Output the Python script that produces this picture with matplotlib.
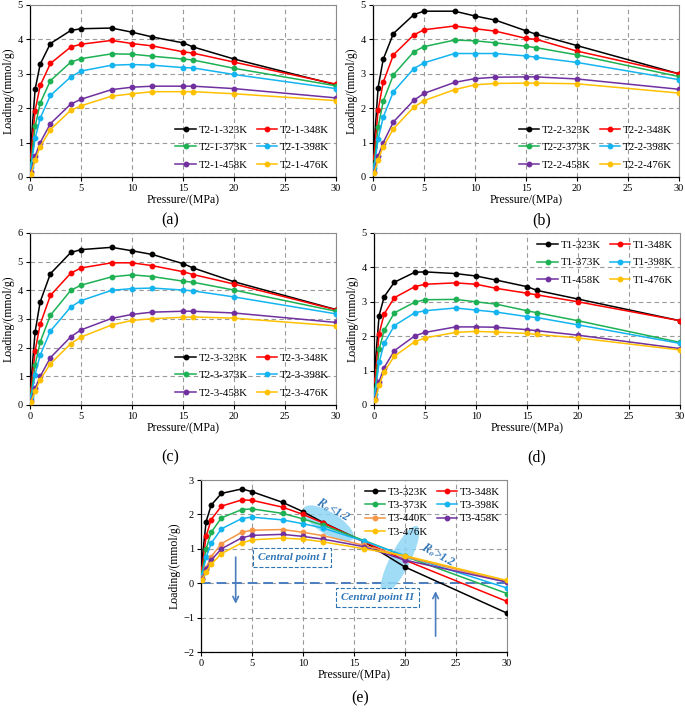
import numpy as np
import matplotlib
matplotlib.use("Agg")
import matplotlib.pyplot as plt
from matplotlib.patches import Ellipse
from matplotlib.transforms import ScaledTranslation

plt.rcParams['font.family'] = ['Liberation Serif', 'DejaVu Serif']
plt.rcParams['mathtext.fontset'] = 'stix'

# pressures (MPa)
pressure = [0.1, 0.5, 1, 2, 4, 5, 8, 10, 12, 15, 16, 20, 30]
pressure_e = [0.1, 0.5, 1, 2, 4, 5, 8, 10, 12, 16, 20, 30]

temps6 = ['323K', '348K', '373K', '398K', '458K', '476K']
temps7 = ['323K', '348K', '373K', '398K', '440K', '458K', '476K']

# (a) T2-1
t21 = [
    [0.93, 2.55, 3.28, 3.88, 4.26, 4.31, 4.33, 4.21, 4.07, 3.90, 3.78, 3.43, 2.68],
    [0.62, 1.93, 2.66, 3.30, 3.78, 3.86, 3.97, 3.88, 3.81, 3.64, 3.60, 3.34, 2.70],
    [0.38, 1.47, 2.15, 2.80, 3.34, 3.44, 3.58, 3.57, 3.51, 3.43, 3.40, 3.16, 2.65],
    [0.30, 1.12, 1.71, 2.37, 2.91, 3.08, 3.25, 3.27, 3.25, 3.18, 3.17, 2.98, 2.57],
    [0.15, 0.60, 1.00, 1.55, 2.12, 2.26, 2.54, 2.61, 2.64, 2.64, 2.64, 2.57, 2.30],
    [0.10, 0.50, 0.88, 1.38, 1.94, 2.07, 2.35, 2.42, 2.48, 2.48, 2.48, 2.42, 2.22],
]
# (b) T2-2
t22 = [
    [0.88, 2.60, 3.42, 4.17, 4.72, 4.82, 4.82, 4.68, 4.56, 4.25, 4.15, 3.82, 3.00],
    [0.58, 1.95, 2.75, 3.55, 4.13, 4.28, 4.39, 4.31, 4.24, 4.03, 4.00, 3.66, 3.00],
    [0.35, 1.45, 2.20, 2.97, 3.64, 3.79, 3.98, 3.96, 3.90, 3.80, 3.76, 3.55, 2.92],
    [0.25, 1.10, 1.74, 2.48, 3.15, 3.32, 3.59, 3.59, 3.59, 3.52, 3.48, 3.33, 2.83],
    [0.15, 0.60, 1.00, 1.60, 2.23, 2.43, 2.75, 2.86, 2.90, 2.91, 2.91, 2.85, 2.55],
    [0.12, 0.50, 0.88, 1.40, 2.03, 2.22, 2.54, 2.68, 2.72, 2.73, 2.73, 2.71, 2.44],
]
# (c) T2-3
t23 = [
    [0.80, 2.55, 3.60, 4.58, 5.32, 5.42, 5.50, 5.38, 5.25, 4.93, 4.78, 4.30, 3.33],
    [0.52, 1.88, 2.82, 3.82, 4.60, 4.78, 4.96, 4.96, 4.86, 4.65, 4.55, 4.22, 3.32],
    [0.35, 1.40, 2.20, 3.13, 4.00, 4.18, 4.47, 4.54, 4.48, 4.32, 4.28, 4.01, 3.27],
    [0.25, 1.06, 1.74, 2.58, 3.42, 3.64, 4.00, 4.06, 4.08, 4.01, 3.98, 3.77, 3.18],
    [0.15, 0.58, 1.00, 1.65, 2.38, 2.62, 3.02, 3.16, 3.24, 3.27, 3.27, 3.21, 2.88],
    [0.12, 0.48, 0.88, 1.44, 2.14, 2.37, 2.79, 2.95, 3.01, 3.06, 3.07, 3.03, 2.76],
]
# (d) T1
t1 = [
    [1.12, 2.60, 3.15, 3.57, 3.86, 3.87, 3.82, 3.75, 3.63, 3.44, 3.33, 3.08, 2.45],
    [0.72, 2.07, 2.65, 3.12, 3.44, 3.51, 3.55, 3.51, 3.39, 3.25, 3.20, 3.00, 2.45],
    [0.45, 1.62, 2.17, 2.68, 2.99, 3.06, 3.07, 3.00, 2.93, 2.74, 2.68, 2.45, 1.82],
    [0.33, 1.24, 1.79, 2.31, 2.68, 2.74, 2.82, 2.76, 2.70, 2.57, 2.54, 2.33, 1.79],
    [0.18, 0.68, 1.09, 1.58, 2.01, 2.11, 2.27, 2.27, 2.26, 2.19, 2.16, 2.03, 1.64],
    [0.14, 0.57, 0.97, 1.42, 1.84, 1.95, 2.11, 2.14, 2.12, 2.08, 2.05, 1.95, 1.60],
]
# (e) T3
t3 = [
    [0.65, 1.79, 2.27, 2.61, 2.74, 2.66, 2.35, 2.08, 1.76, 1.20, 0.47, -0.87],
    [0.42, 1.37, 1.85, 2.24, 2.42, 2.41, 2.21, 2.00, 1.75, 1.20, 0.67, -0.53],
    [0.30, 1.00, 1.48, 1.90, 2.14, 2.16, 2.03, 1.87, 1.68, 1.24, 0.78, -0.30],
    [0.23, 0.75, 1.16, 1.58, 1.88, 1.92, 1.84, 1.73, 1.60, 1.22, 0.80, -0.14],
    [0.15, 0.45, 0.77, 1.15, 1.48, 1.54, 1.56, 1.48, 1.38, 1.10, 0.77, 0.04],
    [0.12, 0.40, 0.67, 1.00, 1.32, 1.39, 1.42, 1.36, 1.28, 1.06, 0.67, 0.03],
    [0.10, 0.32, 0.55, 0.86, 1.17, 1.26, 1.31, 1.28, 1.20, 1.00, 0.80, 0.08],
]

colors6 = ['#000000', '#ff0000', '#1db154', '#14b4f0', '#7030a0', '#ffc000']
colors7 = ['#000000', '#ff0000', '#1db154', '#14b4f0', '#f79646', '#7030a0', '#ffc000']
blue = '#2e75b6'

fig = plt.figure(figsize=(6.85, 7.12), dpi=100)


def setup_axis(ax, ymin, ymax):
    ax.set_xlim(0, 30)
    ax.set_ylim(ymin, ymax)
    ax.set_xticks(range(0, 31, 5))
    ax.set_yticks(range(ymin, ymax + 1))
    ax.grid(True, color='#9a9a9a', linestyle=(0, (4, 3)), linewidth=0.8)
    ax.set_axisbelow(True)
    ax.tick_params(direction='out', length=3, width=0.8, labelsize=7.5, pad=2)
    for s in ['top', 'right']:
        ax.spines[s].set_color('#8c8c8c')
        ax.spines[s].set_linewidth(0.8)
    for s in ['left', 'bottom']:
        ax.spines[s].set_linewidth(0.9)
    ax.set_xlabel('Pressure/(MPa)', fontsize=8.5, labelpad=1)
    ax.set_ylabel('Loading/(mmol/g)', fontsize=8.5, labelpad=2)


def draw_panel(rect, prefix, xs, series, temps, colors, ymin, ymax, loc, order,
               spacing=0.75):
    ax = fig.add_axes(rect)
    setup_axis(ax, ymin, ymax)
    handles = []
    for vals, t, c in zip(series, temps, colors):
        h, = ax.plot(xs, vals, '-o', color=c, lw=1.1, ms=3.2,
                     label=prefix + '-' + t, zorder=3)
        handles.append(h)
    hs = [handles[i] for i in order]
    ax.legend(hs, [h.get_label() for h in hs], ncol=2, loc=loc, frameon=False,
              fontsize=7.8, handlelength=1.9, columnspacing=0.8,
              handletextpad=0.25, labelspacing=spacing, borderaxespad=0.25)
    return ax


order6 = [0, 2, 4, 1, 3, 5]
order7 = [0, 2, 4, 6, 1, 3, 5]

H = 172 / 712
W = 306 / 685
draw_panel([30 / 685, (712 - 177) / 712, W, H], 'T2-1', pressure, t21,
           temps6, colors6, 0, 5, 'lower right', order6)
draw_panel([373 / 685, (712 - 177) / 712, W, H], 'T2-2', pressure, t22,
           temps6, colors6, 0, 5, 'lower right', order6)
draw_panel([30 / 685, (712 - 405) / 712, W, H], 'T2-3', pressure, t23,
           temps6, colors6, 0, 6, 'lower right', order6)
draw_panel([374 / 685, (712 - 405) / 712, W, H], 'T1', pressure, t1,
           temps6, colors6, 0, 5, 'upper right', order6)
ax = draw_panel([201 / 685, (712 - 652) / 712, W, H], 'T3', pressure_e, t3,
                temps7, colors7, -2, 3, 'upper right', order7, spacing=0.35)

# annotations on (e)
ax.axhline(0, color='#4a7ebf', lw=1.4, linestyle=(0, (5, 3)), zorder=2)
for (cx, cy, w, h, ang) in [(12.5, 1.74, 0.58, 0.22, -32), (19.5, 0.67, 0.76, 0.2, 63)]:
    tr = fig.dpi_scale_trans + ScaledTranslation(cx, cy, ax.transData)
    ax.add_patch(Ellipse((0, 0), w, h, angle=ang, transform=tr,
                         facecolor='#8fd6f5', edgecolor='none', alpha=0.85, zorder=2.5))

ax.text(8.9, 0.75, 'Central point I', color=blue, fontsize=8, style='italic',
        weight='bold', ha='center', va='center', zorder=4,
        bbox=dict(boxstyle='square,pad=0.45', fc='white', ec=blue, ls='--', lw=0.8))
ax.text(17.3, -0.42, 'Central point II', color=blue, fontsize=8, style='italic',
        weight='bold', ha='center', va='center', zorder=4,
        bbox=dict(boxstyle='square,pad=0.45', fc='white', ec=blue, ls='--', lw=0.8))
ax.annotate('', xy=(3.4, -0.68), xytext=(3.4, 0.84),
            arrowprops=dict(arrowstyle='->', color='#4a7ebf', lw=1.2), zorder=4)
ax.annotate('', xy=(23.0, -0.15), xytext=(23.0, -1.62),
            arrowprops=dict(arrowstyle='->', color='#4a7ebf', lw=1.2), zorder=4)
ax.text(13.0, 2.12, r'$\mathbfit{R_o}$' + '<1.2', color=blue, fontsize=8.5,
        style='italic', weight='bold', rotation=-28, ha='center', va='center', zorder=4)
ax.text(23.3, 0.82, r'$\mathbfit{R_o}$' + '>1.2', color=blue, fontsize=8.5,
        style='italic', weight='bold', rotation=-28, ha='center', va='center', zorder=4)

# panel labels
for lbl, x, y in [('(a)', 170, 220), ('(b)', 542, 220), ('(c)', 170, 457),
                  ('(d)', 537, 457), ('(e)', 360, 698)]:
    fig.text(x / 685, 1 - y / 712, lbl, fontsize=11.5, ha='center', va='center')

fig.savefig('out.png', dpi=100)
